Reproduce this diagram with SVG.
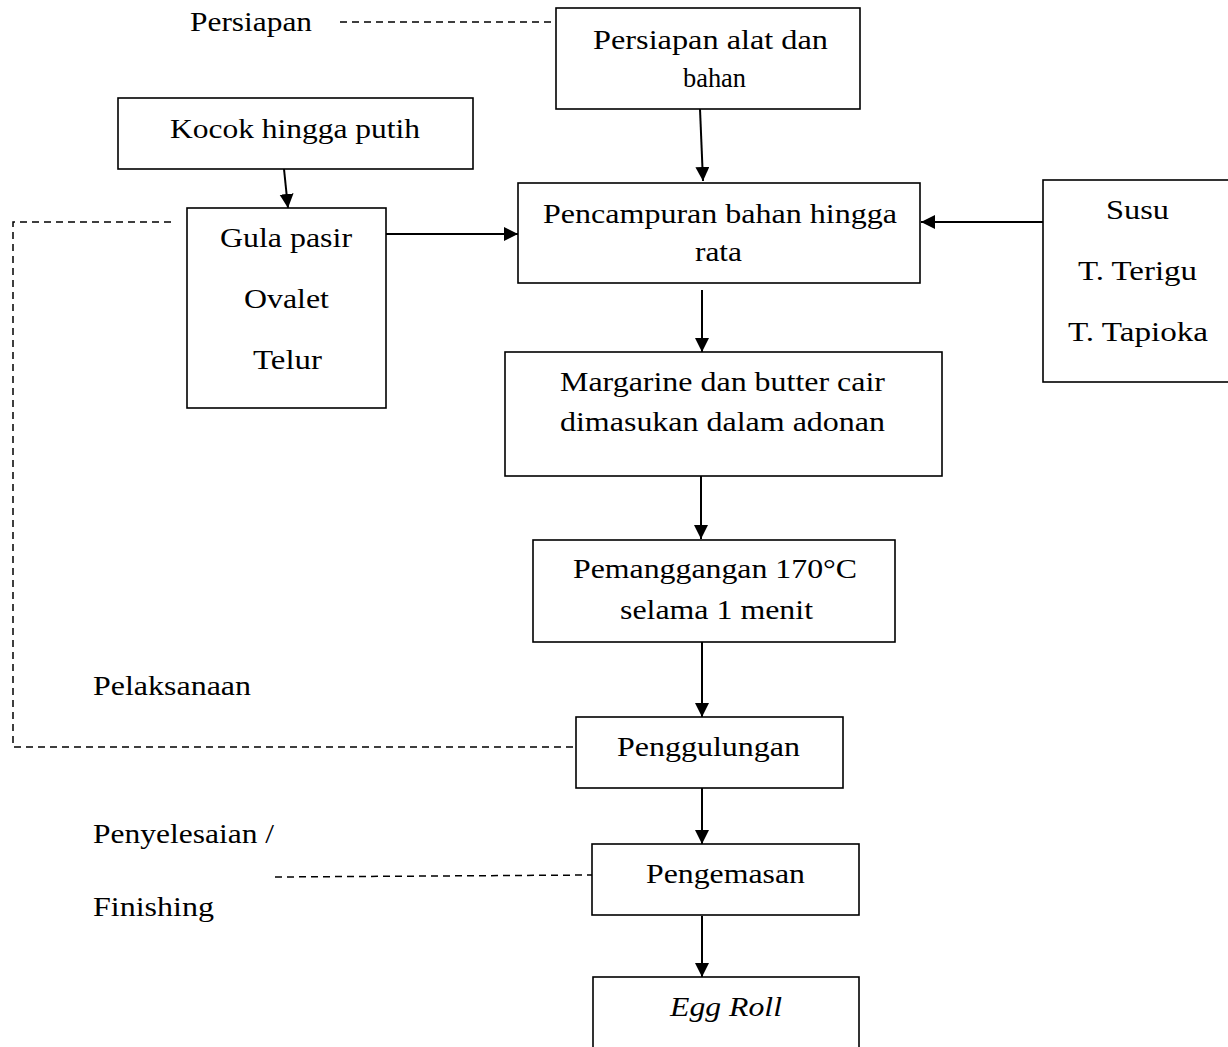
<svg xmlns="http://www.w3.org/2000/svg" width="1228" height="1047" viewBox="0 0 1228 1047">
  <style>
    .box { fill: #ffffff; stroke: #000000; stroke-width: 1.6; }
    .t { font-family: "Liberation Serif", "Times New Roman", Times, serif; font-size: 27px; fill: #000000; }
    .it { font-style: italic; }
    .flow { stroke: #000000; stroke-width: 2; fill: none; }
    .dash { stroke: #000000; stroke-width: 1.5; fill: none; stroke-dasharray: 7 5; }
  </style>
  <defs>
    <marker id="arrow" markerUnits="userSpaceOnUse" markerWidth="14" markerHeight="16" refX="14" refY="7" orient="auto">
      <path d="M0,0 L14,7 L0,14 Z" fill="#000000"/>
    </marker>
  </defs>
  <rect width="1228" height="1047" fill="#ffffff"/>

  <!-- stage labels -->
  <g id="stage-labels">
    <text class="t" x="190" y="31" textLength="122" lengthAdjust="spacingAndGlyphs">Persiapan</text>
    <text class="t" x="93" y="695" textLength="158" lengthAdjust="spacingAndGlyphs">Pelaksanaan</text>
    <text class="t" x="93" y="843" textLength="181" lengthAdjust="spacingAndGlyphs">Penyelesaian /</text>
    <text class="t" x="93" y="916" textLength="121" lengthAdjust="spacingAndGlyphs">Finishing</text>
  </g>

  <!-- connectors -->
  <g id="connectors">
    <line class="dash" x1="340" y1="22" x2="556" y2="22"/>
    <polyline class="dash" points="171,222 13,222 13,747 576,747"/>
    <line class="dash" x1="275" y1="877" x2="593" y2="875"/>

    <line class="flow" x1="700" y1="109" x2="703" y2="181" marker-end="url(#arrow)"/>
    <line class="flow" x1="284" y1="169" x2="288" y2="208" marker-end="url(#arrow)"/>
    <line class="flow" x1="386" y1="234" x2="518" y2="234" marker-end="url(#arrow)"/>
    <line class="flow" x1="1043" y1="222" x2="921" y2="222" marker-end="url(#arrow)"/>
    <line class="flow" x1="702" y1="290" x2="702" y2="352" marker-end="url(#arrow)"/>
    <line class="flow" x1="701" y1="476" x2="701" y2="539" marker-end="url(#arrow)"/>
    <line class="flow" x1="702" y1="642" x2="702" y2="717" marker-end="url(#arrow)"/>
    <line class="flow" x1="702" y1="788" x2="702" y2="844" marker-end="url(#arrow)"/>
    <line class="flow" x1="702" y1="916" x2="702" y2="977" marker-end="url(#arrow)"/>
  </g>

  <g id="persiapan-alat">
    <rect class="box" x="556" y="8" width="304" height="101"/>
    <text class="t" x="593" y="49" textLength="235" lengthAdjust="spacingAndGlyphs">Persiapan alat dan</text>
    <text class="t" x="683" y="87" textLength="63" lengthAdjust="spacingAndGlyphs">bahan</text>
  </g>

  <g id="kocok">
    <rect class="box" x="118" y="98" width="355" height="71"/>
    <text class="t" x="170" y="138" textLength="250" lengthAdjust="spacingAndGlyphs">Kocok hingga putih</text>
  </g>

  <g id="bahan-kocok">
    <rect class="box" x="187" y="208" width="199" height="200"/>
    <text class="t" x="220" y="247" textLength="132" lengthAdjust="spacingAndGlyphs">Gula pasir</text>
    <text class="t" x="244" y="308" textLength="85" lengthAdjust="spacingAndGlyphs">Ovalet</text>
    <text class="t" x="253" y="369" textLength="69" lengthAdjust="spacingAndGlyphs">Telur</text>
  </g>

  <g id="pencampuran">
    <rect class="box" x="518" y="183" width="402" height="100"/>
    <text class="t" x="543" y="223" textLength="354" lengthAdjust="spacingAndGlyphs">Pencampuran bahan hingga</text>
    <text class="t" x="695" y="261" textLength="47" lengthAdjust="spacingAndGlyphs">rata</text>
  </g>

  <g id="bahan-kering">
    <rect class="box" x="1043" y="180" width="200" height="202"/>
    <text class="t" x="1106" y="219" textLength="63" lengthAdjust="spacingAndGlyphs">Susu</text>
    <text class="t" x="1078" y="280" textLength="119" lengthAdjust="spacingAndGlyphs">T. Terigu</text>
    <text class="t" x="1068" y="341" textLength="140" lengthAdjust="spacingAndGlyphs">T. Tapioka</text>
  </g>

  <g id="margarine">
    <rect class="box" x="505" y="352" width="437" height="124"/>
    <text class="t" x="560" y="391" textLength="325" lengthAdjust="spacingAndGlyphs">Margarine dan butter cair</text>
    <text class="t" x="560" y="431" textLength="325" lengthAdjust="spacingAndGlyphs">dimasukan dalam adonan</text>
  </g>

  <g id="pemanggangan">
    <rect class="box" x="533" y="540" width="362" height="102"/>
    <text class="t" x="573" y="578" textLength="284" lengthAdjust="spacingAndGlyphs">Pemanggangan 170°C</text>
    <text class="t" x="620" y="619" textLength="193" lengthAdjust="spacingAndGlyphs">selama 1 menit</text>
  </g>

  <g id="penggulungan">
    <rect class="box" x="576" y="717" width="267" height="71"/>
    <text class="t" x="617" y="756" textLength="183" lengthAdjust="spacingAndGlyphs">Penggulungan</text>
  </g>

  <g id="pengemasan">
    <rect class="box" x="592" y="844" width="267" height="71"/>
    <text class="t" x="646" y="883" textLength="159" lengthAdjust="spacingAndGlyphs">Pengemasan</text>
  </g>

  <g id="egg-roll">
    <rect class="box" x="593" y="977" width="266" height="80"/>
    <text class="t it" x="670" y="1016" textLength="112" lengthAdjust="spacingAndGlyphs">Egg Roll</text>
  </g>
</svg>
